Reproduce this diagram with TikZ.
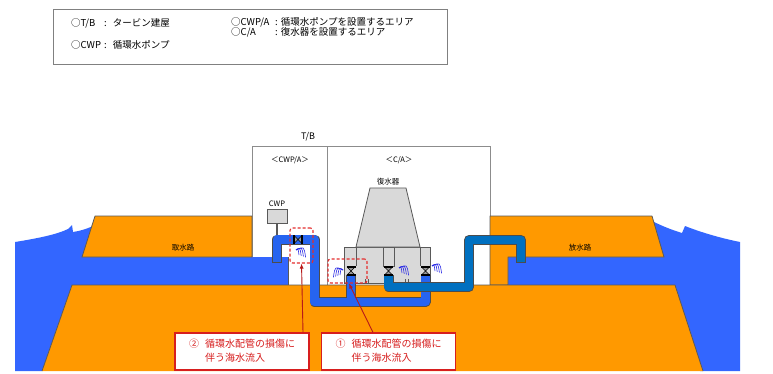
\documentclass[tikz,border=0pt]{standalone}
\usepackage{fontspec}
\setmainfont{Noto Sans CJK JP}
\usepackage{tikz}
\usetikzlibrary{arrows.meta}
\usetikzlibrary{positioning}
\definecolor{groundorange}{RGB}{255,153,0}
\definecolor{seablue}{RGB}{51,102,255}
\definecolor{inletblue}{RGB}{38,100,240}
\definecolor{outletblue}{RGB}{0,112,192}
\definecolor{leakred}{RGB}{228,45,45}
\definecolor{notered}{RGB}{215,30,30}
\definecolor{condgray}{RGB}{217,217,217}
\definecolor{sprayblue}{RGB}{40,40,230}

\tikzset{
  bankline/.style={draw=black!65, line width=0.8pt, line join=round},
  wall/.style={draw=black!45, line width=1pt},
  pipe out/.style={draw=black!70, line width=10pt, line join=round},
  pipe in/.style={line width=8.4pt, line join=round, shorten <=0.8pt, shorten >=0.8pt},
  cond/.style={draw=black!65, fill=condgray, line width=0.8pt},
  leakbox/.style={draw=leakred, dash pattern=on 3pt off 2pt, line width=1.1pt, rounded corners=2.5pt, inner sep=0pt},
  note/.style={draw=notered, fill=white, line width=1.2pt, text=notered, minimum width=134pt, minimum height=37pt, inner sep=0pt, font=\fontsize{10}{14}\selectfont},
  leader/.style={draw=notered!85!black, line width=0.9pt, -{Latex[length=5pt,width=4pt]}},
  legendtext/.style={anchor=west, inner sep=0pt, font=\fontsize{9.5}{11}\selectfont},
  tinylabel/.style={inner sep=0pt, font=\fontsize{7.5}{9}\selectfont},
  valve/.pic={
    \draw[black, fill=black!40, line width=0.5pt] (-3.5,-3.5) -- (3.5,-3.5) -- (-3.5,3.5) -- (3.5,3.5) -- cycle;
    \draw[black, line width=1.2pt] (-4.5,-4) -- (4.5,-4) (-4.5,4) -- (4.5,4);
  },
  spray/.pic={
    \foreach \k in {0,1,2,3}
      \draw[sprayblue, line width=0.6pt] (0,0) .. controls ({2+2*\k},{-2-0.6*\k}) .. ({3+2.2*\k},{5+0.8*\k});
  }
}

\begin{document}
\begin{tikzpicture}[x=1pt, y=-1pt]
  \useasboundingbox (0,0) rectangle (773,374);

  % Legend
  \draw[draw=black!50, line width=0.9pt] (53,9) rectangle (447,64);
  \node[legendtext] (keytb) at (71,23) {○T/B};
  \node[legendtext] (keytbtxt) at (104,23) {:\hspace{6pt}タービン建屋};
  \node[legendtext] (keycwp) at (71,45) {○CWP};
  \node[legendtext] (keycwptxt) at (104,45) {:\hspace{6pt}循環水ポンプ};
  \node[legendtext] (keycwpa) at (231,22) {○CWP/A};
  \node[legendtext] (keycwpatxt) at (275,22) {:\hspace{3pt}循環水ポンプを設置するエリア};
  \node[legendtext] (keyca) at (231,32) {○C/A};
  \node[legendtext] (keycatxt) at (275,32) {:\hspace{3pt}復水器を設置するエリア};

  % Turbine building
  \draw[wall, fill=white] (252,147) rectangle (490,285);
  \draw[wall] (327,147) -- (327,285);
  \node[inner sep=0pt, font=\fontsize{9}{10}\selectfont] (tb) at (308,137) {T/B};
  \node[tinylabel] (cwparea) at (290,160) {＜CWP/A＞};
  \node[tinylabel] (carea) at (399,160) {＜C/A＞};

  % Sea and water channels
  \fill[seablue] (15,242) .. controls (40,238) and (58,234) .. (68,229) -- (72,225)
    -- (73,232) .. controls (80,231) and (86,229) .. (92,226.5) -- (120,226.5) -- (120,257)
    -- (288,257) -- (288,285) -- (72,285) -- (42,371) -- (15,371) -- cycle;
  \fill[seablue] (652,221) .. controls (662,226) and (672,230) .. (682,233) -- (685,226)
    .. controls (700,232) and (720,238) .. (740,242) -- (740,371) -- (700,371)
    -- (670,285) -- (508,285) -- (508,257) -- (660,257) -- cycle;

  % Ground
  \filldraw[fill=groundorange, bankline] (95,216) -- (252,216) -- (252,257) -- (82,257) -- cycle;
  \filldraw[fill=groundorange, bankline] (490,216) -- (652,216) -- (664,257) -- (508,257) -- (508,285) -- (490,285) -- cycle;
  \fill[groundorange] (42,371) -- (72,285) -- (675,285) -- (703,371) -- cycle;
  \draw[bankline] (42,371) -- (72,285) -- (675,285) -- (703,371);
  \draw[bankline] (288,257) -- (288,285);
  \node[tinylabel] (intake) at (183,248) {取水路};
  \node[tinylabel] (outfall) at (580,248) {放水路};

  % Condenser
  \draw[cond] (344,247) rectangle (430,283);
  \draw[cond] (356,247) -- (370,188) -- (406,188) -- (420,247) -- cycle;
  \draw[cond] (383,247) rectangle (394,266);
  \draw[draw=black!65, line width=0.8pt] (356,247) -- (356,266) (420,247) -- (420,266);
  \draw[black!65, line width=0.6pt] (365.5,279) -- (365.5,283) (368.5,279) -- (368.5,283)
    (405.5,279) -- (405.5,283) (408.5,279) -- (408.5,283);
  \node[tinylabel] (condlabel) at (388,182) {復水器};

  % Circulating water pump
  \node[draw=black!65, fill=condgray, line width=0.8pt, minimum width=20pt, minimum height=14pt, inner sep=0pt] (cwp) at (277,216) {};
  \node[tinylabel, above=1.5pt of cwp] (cwplabel) {CWP};
  \coordinate (shaftfoot) at (277,235);
  \draw[black!65, line width=1.5pt] (cwp.south) -- (shaftfoot);

  % Circulating water piping
  \draw[pipe out] (277,263) -- (277,239.5) -- (314.5,239.5) -- (314.5,302) -- (425.5,302) -- (425.5,275);
  \draw[pipe out] (351,302) -- (351,275);
  \draw[pipe in, inletblue] (277,263) -- (277,239.5) -- (314.5,239.5) -- (314.5,302) -- (425.5,302) -- (425.5,275);
  \draw[pipe in, inletblue, shorten <=0pt] (351,302) -- (351,275);
  \draw[pipe out] (388.5,275) -- (388.5,287) -- (469,287) -- (469,240) -- (521,240) -- (521,263);
  \draw[pipe in, outletblue] (388.5,275) -- (388.5,287) -- (469,287) -- (469,240) -- (521,240) -- (521,263);

  % Valves
  \pic[rotate=90] at (298,239.5) {valve};
  \pic at (351,271) {valve};
  \pic at (388.5,271) {valve};
  \pic at (425.5,271) {valve};

  % Leaking water
  \pic at (296,250) {spray};
  \pic[xscale=-1] at (343,270) {spray};
  \pic at (399,268) {spray};
  \pic at (432,266) {spray};

  % Damage locations and notes
  \node[leakbox, minimum width=23pt, minimum height=35pt] (leak2) at (301.5,245.5) {};
  \node[leakbox, minimum width=39pt, minimum height=24pt] (leak1) at (347.5,271) {};
  \node[note] (note2) at (242,351.5) {\begin{tabular}{@{}l@{\hspace{6pt}}l@{}}② & 循環水配管の損傷に\\ & 伴う海水流入\end{tabular}};
  \node[note] (note1) at (388.5,351.5) {\begin{tabular}{@{}l@{\hspace{6pt}}l@{}}① & 循環水配管の損傷に\\ & 伴う海水流入\end{tabular}};
  \draw[leader] ([xshift=61pt]note2.north) -- (leak2.south);
  \draw[leader] ([xshift=-15.5pt]note1.north) -- ([xshift=1.5pt]leak1.south);
\end{tikzpicture}
\end{document}
